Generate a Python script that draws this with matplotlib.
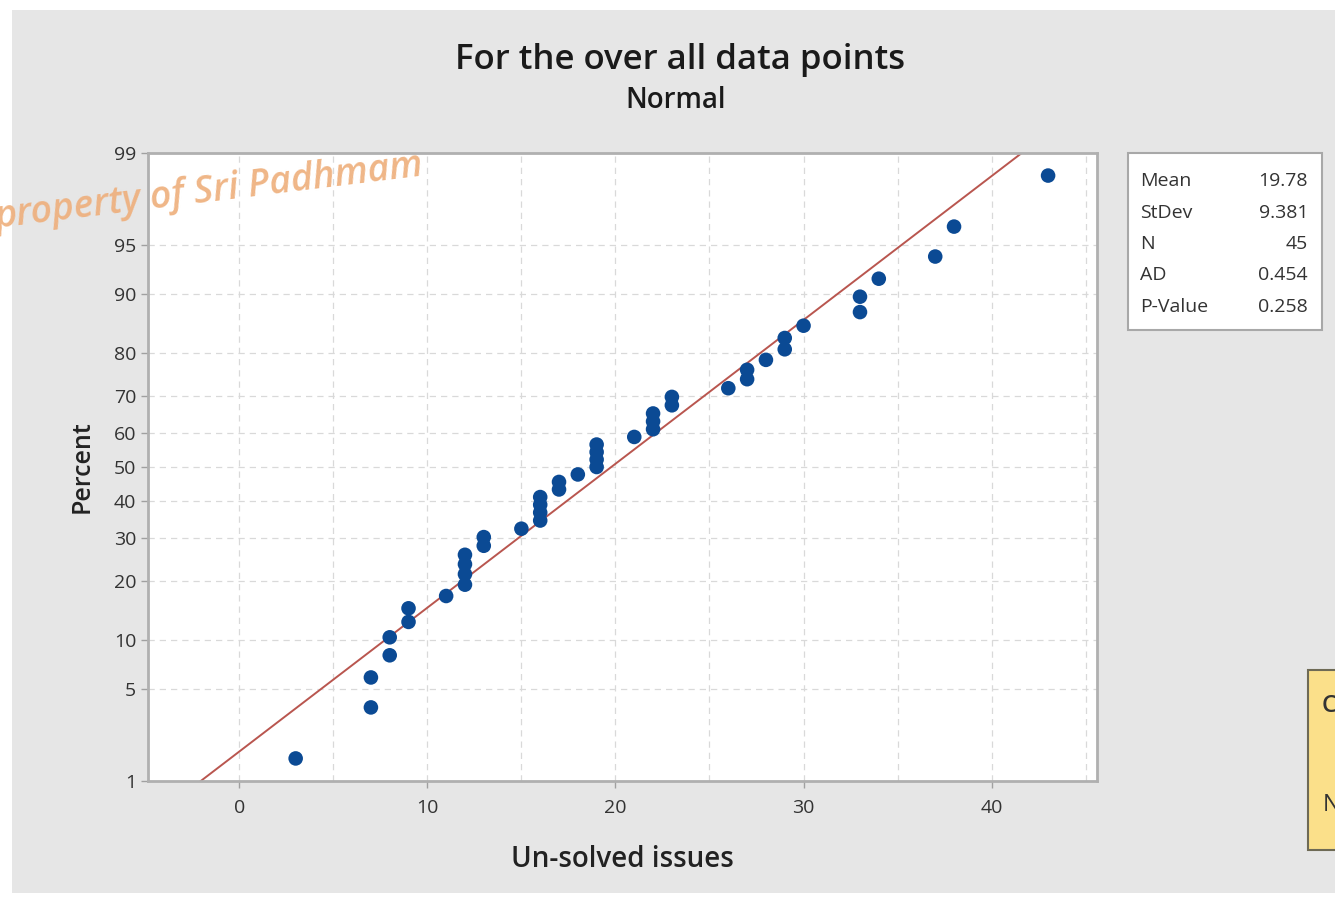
import numpy as np
import matplotlib
matplotlib.use("Agg")
import matplotlib.pyplot as plt
from matplotlib.patches import Rectangle
from statistics import NormalDist

plt.rcParams['font.family'] = ['Open Sans', 'DejaVu Sans']

# unsolved issues per data point (n = 45)
issues = [3, 7, 7, 8, 8, 9, 9, 11, 12, 12, 12, 12, 13, 13, 15,
          16, 16, 16, 16, 17, 17, 18, 19, 19, 19, 19, 21, 22, 22, 22,
          23, 23, 26, 27, 27, 28, 29, 29, 30, 33, 33, 34, 37, 38, 43]
pct_ticks = [1, 5, 10, 20, 30, 40, 50, 60, 70, 80, 90, 95, 99]
x_ticks = [0, 10, 20, 30, 40]
stat_names = ["Mean", "StDev", "N", "AD", "P-Value"]
stat_values = ["19.78", "9.381", "45", "0.454", "0.258"]

nd = NormalDist()
z = nd.inv_cdf

x = np.sort(np.array(issues, dtype=float))
n = len(x)
ranks = np.arange(1, n + 1)
p = (ranks - 0.3) / (n + 0.4)          # median ranks
zy = np.array([z(v) for v in p])
mu, sd = x.mean(), x.std(ddof=1)

W, H = 1335, 899
fig = plt.figure(figsize=(W / 100, H / 100), dpi=100)
fig.patch.set_facecolor('white')
# gray panel behind the chart
fig.patches.append(Rectangle((12 / W, 1 - 893 / H), 1, (893 - 10) / H,
                             transform=fig.transFigure, facecolor='#e6e6e6',
                             edgecolor='none', zorder=-5))

ax = fig.add_axes([148 / W, 1 - 781 / H, (1097 - 148) / W, (781 - 153) / H])
ax.set_zorder(1)
ax.set_facecolor('white')
ax.set_xlim(-4.85, 45.6)
ax.set_ylim(z(0.01), z(0.99))

# grid
for g in np.arange(-5, 50, 5):
    ax.axvline(g, color='#d9d9d9', lw=0.9, ls=(0, (5, 4)), zorder=1)
for t in pct_ticks:
    ax.axhline(z(t / 100), color='#d9d9d9', lw=0.9, ls=(0, (5, 4)), zorder=1)

# fitted normal line
pl = np.array([0.005, 0.995])
xl = mu + sd * np.array([z(v) for v in pl])
ax.plot(xl, [z(v) for v in pl], color='#b9564f', lw=1.4, zorder=2)

ax.scatter(x, zy, s=110, color='#0b4a94', edgecolors='none', zorder=3)

ax.set_yticks([z(t / 100) for t in pct_ticks])
ax.set_yticklabels([str(t) for t in pct_ticks])
ax.set_xticks(x_ticks)
for s in ax.spines.values():
    s.set_color('#b0b0b0')
    s.set_linewidth(2)
ax.tick_params(colors='#a0a0a0', labelcolor='#333333', labelsize=14, length=5, width=1)
ax.tick_params(axis='x', pad=8)

ax.set_xlabel("Un-solved issues", fontsize=20, fontweight='semibold', color='#222222', labelpad=20)
ax.set_ylabel("Percent", fontsize=18, fontweight='semibold', color='#222222', labelpad=14)

fig.text(680 / W, 1 - 60 / H, "For the over all data points", ha='center', va='center',
         fontsize=25, fontweight='semibold', color='#1a1a1a')
fig.text(676 / W, 1 - 100 / H, "Normal", ha='center', va='center',
         fontsize=20, fontweight='semibold', color='#1a1a1a')

# stats box
fig.patches.append(Rectangle((1128 / W, 1 - 330 / H), (1322 - 1128) / W, (330 - 153) / H,
                             transform=fig.transFigure, facecolor='white',
                             edgecolor='#a8a8a8', lw=1.5, zorder=2))
for i, (nm, val) in enumerate(zip(stat_names, stat_values)):
    yy = 1 - (181 + i * 31.5) / H
    fig.text(1140 / W, yy, nm, ha='left', va='center', fontsize=14, color='#333333', zorder=3)
    fig.text(1308 / W, yy, val, ha='right', va='center', fontsize=14, color='#333333', zorder=3)

# partial yellow note box cut by the right edge
fig.patches.append(Rectangle((1308 / W, 1 - 850 / H), 40 / W, (850 - 670) / H,
                             transform=fig.transFigure, facecolor='#fbe08a',
                             edgecolor='#6e6a55', lw=1.5, zorder=2))
fig.text(1322 / W, 1 - 706 / H, "C", ha='left', va='center', fontsize=17,
         fontweight='semibold', color='#333333', zorder=3)
fig.lines.append(plt.Line2D([1322 / W, 1340 / W], [1 - 722 / H, 1 - 722 / H],
                            transform=fig.transFigure, color='#333333', lw=1.5))
fig.text(1323 / W, 1 - 805 / H, "N", ha='left', va='center', fontsize=17,
         color='#333333', zorder=3)

# watermark
fig.text(-8 / W, 1 - 228 / H, "property of Sri Padhmam", ha='left', va='baseline',
         rotation=7, fontsize=27, fontstyle='italic', fontweight='semibold',
         color='#eeae7a', alpha=0.9, zorder=5)

fig.savefig("out.png", dpi=100)
